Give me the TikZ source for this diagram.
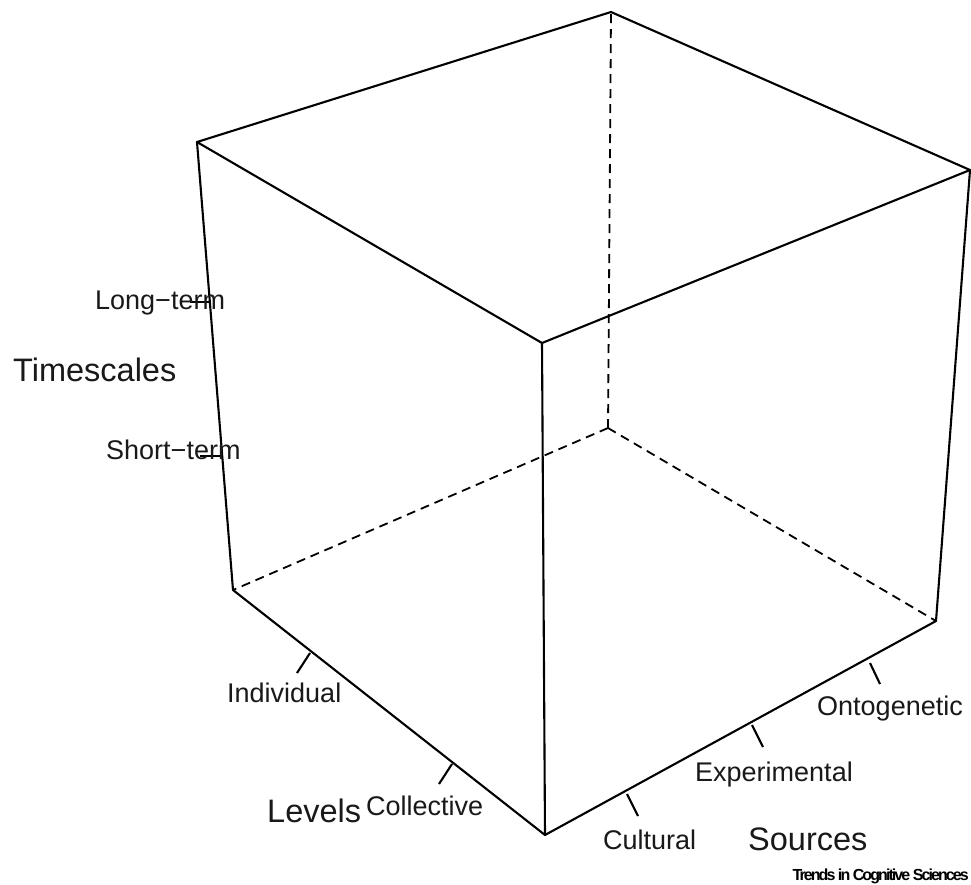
\documentclass[tikz,border=0pt]{standalone}
\usepackage{fontspec}
\usetikzlibrary{calc}
\setmainfont{Liberation Sans}
\newfontfamily\trendsfont[LetterSpace=-12]{Liberation Sans}
\begin{document}
\begin{tikzpicture}[x=1pt,y=-1pt,
  edge/.style={line width=2.1pt,line cap=round,line join=round},
  hidden/.style={line width=1.8pt,dash pattern=on 9pt off 6pt},
  tick/.style={line width=2.1pt},
  lab/.style={anchor=base west,inner sep=0pt,font=\fontsize{27}{30}\selectfont,text=black!90},
  biglab/.style={anchor=base west,inner sep=0pt,font=\fontsize{32.5}{36}\selectfont,text=black!90}]
\useasboundingbox[fill=white] (0,0) rectangle (971,884);
% cube corners
\coordinate (A) at (197,142);
\coordinate (B) at (611,12);
\coordinate (C) at (970,170);
\coordinate (D) at (542,343);
\coordinate (E) at (233,590);
\coordinate (F) at (545,835);
\coordinate (G) at (936,621);
\coordinate (H) at (608,428);
% hidden edges
\draw[hidden] (H) -- (B);
\draw[hidden] (H) -- (E);
\draw[hidden] (H) -- (G);
% visible edges
\draw[edge] (A) -- (B) -- (C) -- (D) -- cycle;
\draw[edge] (A) -- (E) -- (F) -- (G) -- (C);
\draw[edge] (D) -- (F);
% ticks: timescales
\coordinate (t1) at ($(A)!0.357!(E)$);
\coordinate (t1e) at ($(t1)+(-20,0)$);
\coordinate (t2) at ($(A)!0.7!(E)$);
\coordinate (t2e) at ($(t2)+(-22,0)$);
\draw[tick] (t1) -- (t1e);
\draw[tick] (t2) -- (t2e);
% ticks: levels
\coordinate (l1) at (310,653);
\coordinate (l1e) at (297,673);
\coordinate (l2) at (452,764);
\coordinate (l2e) at (439,784);
\draw[tick] (l1) -- (l1e);
\draw[tick] (l2) -- (l2e);
% ticks: sources
\coordinate (s1) at (627,794);
\coordinate (s1e) at (638,816);
\coordinate (s2) at (752,725);
\coordinate (s2e) at (763,747);
\coordinate (s3) at (870,663);
\coordinate (s3e) at (880,684);
\draw[tick] (s1) -- (s1e);
\draw[tick] (s2) -- (s2e);
\draw[tick] (s3) -- (s3e);
% labels
\node[lab] (long) at (95,309) {Long\textminus term};
\node[lab] (short) at (106,459) {Short\textminus term};
\node[biglab] (times) at (13,381) {Timescales};
\node[lab] (indiv) at (227,702) {Individual};
\node[biglab] (levels) at (267,822) {Levels};
\node[lab] (coll) at (366,815) {Collective};
\node[lab] (cult) at (603,849) {Cultural};
\node[biglab] (src) at (748,850) {Sources};
\node[lab] (exp) at (695,781) {Experimental};
\node[lab] (onto) at (817,715) {Ontogenetic};
\node[anchor=base east,inner sep=0pt,font=\trendsfont\bfseries\fontsize{16}{18}\selectfont] (trends) at (969,880) {Trends in Cognitive Sciences};
\end{tikzpicture}
\end{document}
